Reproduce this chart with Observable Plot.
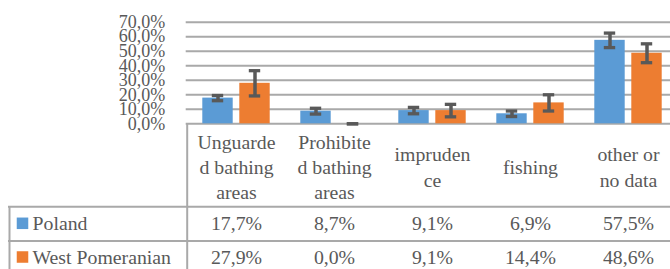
<!DOCTYPE html>
<html><head><meta charset="utf-8">
<script src="https://cdn.jsdelivr.net/npm/d3@7"></script>
<script src="https://cdn.jsdelivr.net/npm/@observablehq/plot@0.6"></script>
<style>
body{margin:0;background:#fff}
#chart svg, #chart svg text{font-family:"Liberation Serif","Times New Roman",serif !important}
</style>
</head><body><div id="chart"></div>
<script>
const categories = ["Unguarded bathing areas", "Prohibited bathing areas", "imprudence", "fishing", "other or no data"];
const categoryLabels = ["Unguarde\nd bathing\nareas", "Prohibite\nd bathing\nareas", "impruden\nce", "fishing", "other or\nno data"];
const seriesNames = ["Poland", "West Pomeranian"];
const polandValues = [17.7, 8.7, 9.1, 6.9, 57.5];
const westPomeranianValues = [27.9, 0.0, 9.1, 14.4, 48.6];
const polandErrors = [1.8, 2.0, 2.2, 1.9, 5.0];
const westPomeranianErrors = [8.7, 0.0, 4.3, 5.6, 6.5];
const yTicks = [0, 10, 20, 30, 40, 50, 60, 70];
const colors = ["#5B9BD5", "#ED7D31"];

const labelOf = new Map(categories.map((c, i) => [c, categoryLabels[i]]));
const pol = categories.map((c, i) => ({category: c, series: seriesNames[0], value: polandValues[i], err: polandErrors[i]}));
const wp = categories.map((c, i) => ({category: c, series: seriesNames[1], value: westPomeranianValues[i], err: westPomeranianErrors[i]}));

const fmt = v => v.toFixed(1).replace(".", ",") + "%";
const font = "Liberation Serif";
const textColor = "#595959";
const gridColor = "#A9A9A9";
const errColor = "#595959";
const W = 670, H = 269;
const left = 185.7, band = 98.6;
const y0 = 123.3, yTop = 21.7;
const fs = 19.8;

const errMarks = (data, dx, inL, inR) => [
  Plot.ruleX(data, {x: "category", y1: d => d.value - d.err, y2: d => d.value + d.err, dx, stroke: errColor, strokeWidth: 3.5}),
  Plot.tickY(data, {x: "category", y: d => d.value + d.err, insetLeft: inL, insetRight: inR, stroke: errColor, strokeWidth: 3.3}),
  Plot.tickY(data, {x: "category", y: d => d.value - d.err, insetLeft: inL, insetRight: inR, stroke: errColor, strokeWidth: 3.3})
];

const chart = Plot.plot({
  width: W, height: H,
  marginLeft: left, marginRight: 0, marginTop: yTop, marginBottom: H - y0,
  style: {fontFamily: font, background: "#fff"},
  x: {type: "band", domain: categories, range: [left, left + band * categories.length], padding: 0, axis: null},
  y: {domain: [0, 70], range: [y0, yTop], axis: null},
  marks: [
    Plot.ruleY(yTicks, {stroke: gridColor, strokeWidth: 2}),
    Plot.axisY(yTicks, {label: null, tickSize: 0, tickPadding: 21, tickFormat: fmt, fontSize: 18, fontFamily: font, fill: textColor}),
    Plot.barY(pol, {x: "category", y: "value", fill: colors[0], insetLeft: 15.3, insetRight: 52.3}),
    Plot.barY(wp, {x: "category", y: "value", fill: colors[1], insetLeft: 52.3, insetRight: 15.3}),
    ...errMarks(pol, -18.5, 24.8, 61.8),
    ...errMarks(wp, 18.5, 61.8, 24.8),
    // table grid
    Plot.ruleY([0], {dy: 83, insetLeft: -(left - 8), stroke: gridColor, strokeWidth: 2}),
    Plot.ruleY([0], {dy: 117.2, insetLeft: -(left - 8), stroke: gridColor, strokeWidth: 2}),
    Plot.ruleX([categories[0]], {x: d => d, dx: -band / 2, insetTop: y0 - yTop, insetBottom: -(H - y0 + 5), stroke: gridColor, strokeWidth: 2}),
    Plot.ruleX([categories[0]], {x: d => d, dx: 8 - (left + band / 2), insetTop: 206.3 - yTop, insetBottom: -(H - y0 + 5), stroke: gridColor, strokeWidth: 2}),
    // header labels
    Plot.text(categories, {x: d => d, text: d => labelOf.get(d), frameAnchor: "bottom", dy: 42.2, lineAnchor: "middle", lineHeight: 1.27, fontSize: fs, fontFamily: font, fill: textColor}),
    // values
    Plot.text(pol, {x: "category", text: d => fmt(d.value), frameAnchor: "bottom", dy: 100, lineAnchor: "middle", fontSize: fs, fontFamily: font, fill: textColor}),
    Plot.text(wp, {x: "category", text: d => fmt(d.value), frameAnchor: "bottom", dy: 133.7, lineAnchor: "middle", fontSize: fs, fontFamily: font, fill: textColor}),
    // legend keys
    Plot.dot([seriesNames[0]], {frameAnchor: "bottom-left", dx: 22 - left, dy: 99.5, symbol: "square", r: 6.5, fill: colors[0]}),
    Plot.dot([seriesNames[1]], {frameAnchor: "bottom-left", dx: 22 - left, dy: 133.2, symbol: "square", r: 6.5, fill: colors[1]}),
    Plot.text([seriesNames[0]], {text: d => d, frameAnchor: "bottom-left", dx: 32 - left, dy: 100, textAnchor: "start", lineAnchor: "middle", fontSize: fs, fontFamily: font, fill: textColor}),
    Plot.text([seriesNames[1]], {text: d => d, frameAnchor: "bottom-left", dx: 32 - left, dy: 133.7, textAnchor: "start", lineAnchor: "middle", fontSize: fs, fontFamily: font, fill: textColor})
  ]
});
document.getElementById("chart").append(chart);
</script>
</body></html>
